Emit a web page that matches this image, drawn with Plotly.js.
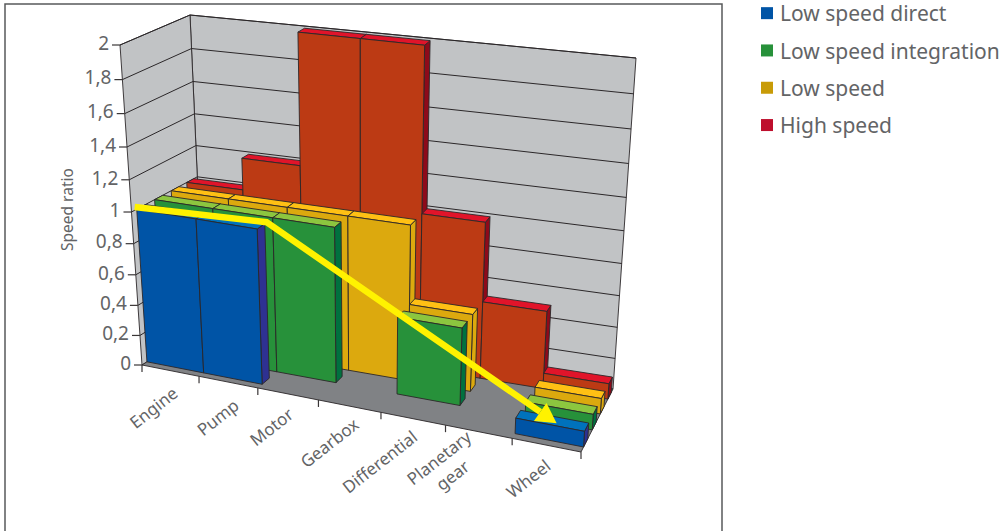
<!DOCTYPE html>
<html>
<head>
<meta charset="utf-8">
<script src="https://cdn.plot.ly/plotly-3.0.1.min.js"></script>
<style>html,body{margin:0;padding:0;background:#fff}#chart{width:1003px;height:531px}</style>
</head>
<body>
<div id="chart"></div>
<script>
// ---------- data ----------
const categories = ['Engine', 'Pump', 'Motor', 'Gearbox', 'Differential', 'Planetary<br>gear', 'Wheel'];
const seriesNames = ['Low speed direct', 'Low speed integration', 'Low speed', 'High speed'];
const lowSpeedDirect = [1, 1, 0, 0, 0, 0, 0.1];
const lowSpeedIntegration = [1, 1, 1, 0, 0.5, 0, 0.1];
const lowSpeed = [1, 1, 1, 1, 0.5, 0, 0.1];
const highSpeed = [1, 1.2, 2, 2, 1, 0.5, 0.1];
const valueTicks = [0, 0.2, 0.4, 0.6, 0.8, 1, 1.2, 1.4, 1.6, 1.8, 2];
const valueTickLabels = ['0', '0,2', '0,4', '0,6', '0,8', '1', '1,2', '1,4', '1,6', '1,8', '2'];
const axisTitle = 'Speed ratio';

// speed path drawn over the bars: category position, row position, value
const pathCat = [-0.04, 2.15, 6.58];
const pathRow = [0.3, 0.3, 0.42];
const pathVal = [1.01, 1.05, 0.1];

// ---------- 3D box of the chart, as seen on the page ----------
const corner = {
  A: [142, 365], B: [581, 452], G: [204, 325], F: [613, 389],
  C: [120, 45],  H: [601, 111], D: [190, 15],  E: [636, 58]
};
const warp = (t, k) => t * (1 + k) / (1 + t * k);
const nCat = categories.length, nRow = seriesNames.length, maxVal = 2;
function project(cat, row, val) {
  const u = warp(cat / nCat, -0.104), v = warp(row / nRow, 0.15), w = warp(val / maxVal, -0.084);
  const p = i => {
    const bot = (corner.A[i] * (1 - u) + corner.B[i] * u) * (1 - v) + (corner.G[i] * (1 - u) + corner.F[i] * u) * v;
    const top = (corner.C[i] * (1 - u) + corner.H[i] * u) * (1 - v) + (corner.D[i] * (1 - u) + corner.E[i] * u) * v;
    return bot * (1 - w) + top * w;
  };
  return [p(0), p(1)];
}

const edge = '#2b2729';
const traces = [];
function poly(pts, fill, lw) {
  const xs = pts.map(p => p[0]), ys = pts.map(p => p[1]);
  xs.push(xs[0]); ys.push(ys[0]);
  traces.push({type: 'scatter', mode: 'lines', x: xs, y: ys, fill: 'toself', fillcolor: fill,
    line: {color: edge, width: lw === undefined ? 0.9 : lw}, hoverinfo: 'skip', showlegend: false});
}
function line(pts, color, w) {
  traces.push({type: 'scatter', mode: 'lines', x: pts.map(p => p[0]), y: pts.map(p => p[1]),
    line: {color: color || edge, width: w || 1}, hoverinfo: 'skip', showlegend: false});
}

// walls and floor
const wall = '#c1c3c5', floor = '#808285';
poly([project(0, 4, 0), project(7, 4, 0), project(7, 4, 2), project(0, 4, 2)], wall);
poly([project(0, 0, 0), project(0, 4, 0), project(0, 4, 2), project(0, 0, 2)], wall);
poly([project(0, 0, 0), project(7, 0, 0), project(7, 4, 0), project(0, 4, 0)], floor);
valueTicks.forEach(z => {
  if (z > 0) line([project(0, 0, z), project(0, 4, z), project(7, 4, z)], edge, 1);
});

// bars, back row first, left to right
const rows = [lowSpeedDirect, lowSpeedIntegration, lowSpeed, highSpeed];
const palette = [
  {front: '#0054a6', top: '#0072bc', side: '#2e3192'},
  {front: '#27913a', top: '#8cc63f', side: '#00713f'},
  {front: '#dca90e', top: '#ffc014', side: '#dca90e'},
  {front: '#bc3a14', top: '#e0142a', side: '#8e0a1a'}
];
const rowNear = 0.28, rowFar = 0.76;
for (let r = nRow - 1; r >= 0; r--) {
  rows[r].forEach((val, c) => {
    if (!val) return;
    const n = r + rowNear, f = r + rowFar, col = palette[r];
    poly([project(c + 1, n, 0), project(c + 1, f, 0), project(c + 1, f, val), project(c + 1, n, val)], col.side);
    poly([project(c, n, val), project(c + 1, n, val), project(c + 1, f, val), project(c, f, val)], col.top);
    poly([project(c, n, 0), project(c + 1, n, 0), project(c + 1, n, val), project(c, n, val)], col.front);
  });
}

// ticks along both axes
const tickGrey = '#3a3637';
valueTicks.forEach(z => {
  const p = project(0, 0, z);
  line([[p[0] - 8, p[1]], p], tickGrey, 1.2);
});
for (let i = 0; i <= nCat; i++) {
  const p = project(i, 0, 0);
  line([p, [p[0], p[1] + 7]], tickGrey, 1.2);
}

// value labels
const labelFont = {family: '"Noto Sans", sans-serif', size: 19, color: '#636466'};
traces.push({type: 'scatter', mode: 'text', cliponaxis: false, hoverinfo: 'skip', showlegend: false,
  x: valueTicks.map(z => project(0, 0, z)[0] - 11),
  y: valueTicks.map(z => project(0, 0, z)[1]),
  text: valueTickLabels, textposition: 'middle left', textfont: labelFont});

// yellow path with arrow head
const pathPts = pathCat.map((c, i) => project(c, pathRow[i], pathVal[i]));
const tip = pathPts[2], prev = pathPts[1];
const dx = tip[0] - prev[0], dy = tip[1] - prev[1], len = Math.hypot(dx, dy);
const ux = dx / len, uy = dy / len, headLen = 20, headHalf = 11;
const base = [tip[0] - ux * headLen, tip[1] - uy * headLen];
traces.push({type: 'scatter', mode: 'lines', x: [pathPts[0][0], pathPts[1][0], base[0]], y: [pathPts[0][1], pathPts[1][1], base[1]],
  line: {color: '#fff200', width: 6.5, join: 'miter'}, hoverinfo: 'skip', showlegend: false});
traces.push({type: 'scatter', mode: 'lines', fill: 'toself', fillcolor: '#fff200',
  x: [tip[0], base[0] - uy * headHalf, base[0] + uy * headHalf, tip[0]],
  y: [tip[1], base[1] + ux * headHalf, base[1] - ux * headHalf, tip[1]],
  line: {color: '#fff200', width: 0}, hoverinfo: 'skip', showlegend: false});

// legend entries
const legendColors = ['#0054a6', '#27913a', '#c89b07', '#be0f2d'];
seriesNames.forEach((name, i) => {
  traces.push({type: 'scatter', mode: 'markers', name: name, legendgroup: name, x: [null], y: [null],
    marker: {symbol: 'square', size: 12, color: legendColors[i]}, showlegend: true});
});

// rotated category labels
const catCx = [-17, -11, -16, -20, -33, -33, -18];
const catCy = [37, 35, 33, 36, 43, 35, 33];
const annotations = categories.map((t, i) => {
  const p = project(i + 0.5, 0, 0);
  return {x: p[0] + catCx[i], y: p[1] + catCy[i], text: t, showarrow: false, textangle: -38,
    xanchor: 'center', yanchor: 'middle', font: {family: labelFont.family, size: 17, color: '#636466'}};
});
annotations.push({x: 67, y: 210, text: axisTitle, showarrow: false, textangle: -90,
  font: {family: labelFont.family, size: 15.5, color: '#636466'}});

const layout = {
  width: 1003, height: 531, margin: {l: 0, r: 0, t: 0, b: 0},
  paper_bgcolor: '#fff', plot_bgcolor: '#fff',
  xaxis: {range: [0, 1003], visible: false, fixedrange: true},
  yaxis: {range: [531, 0], visible: false, fixedrange: true},
  shapes: [{type: 'rect', xref: 'x', yref: 'y', x0: 5, y0: 4, x1: 722, y1: 560, line: {color: '#58595b', width: 1.5}}],
  annotations: annotations,
  showlegend: true,
  legend: {x: 735 / 1003, y: 1, xanchor: 'left', yanchor: 'top', traceorder: 'grouped', tracegroupgap: 7,
    font: {family: labelFont.family, size: 21, color: '#636466'}, bgcolor: 'rgba(0,0,0,0)', itemclick: false, itemdoubleclick: false}
};
Plotly.newPlot('chart', traces, layout, {displayModeBar: false, staticPlot: true}).then(() => {
  document.querySelectorAll('.legend .legendpoints').forEach(g => g.setAttribute('transform', 'translate(7,0)'));
  const lg = document.querySelector('.legend');
  const m = /translate\(([-\d.]+)[ ,]+([-\d.]+)\)/.exec(lg.getAttribute('transform'));
  if (m) lg.setAttribute('transform', 'translate(' + (parseFloat(m[1]) + 5) + ',' + (parseFloat(m[2]) - 7) + ')');
});
</script>
</body>
</html>
